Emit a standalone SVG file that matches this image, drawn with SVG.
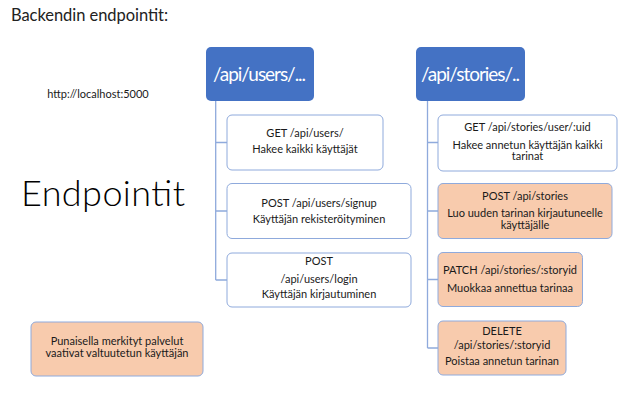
<svg xmlns="http://www.w3.org/2000/svg" width="643" height="404" viewBox="0 0 643 404">
<style>
text{font-family:Lato,"Liberation Sans",sans-serif;fill:#1a1a1a}
.t{font-size:11px;text-anchor:middle}
.hdr rect{fill:#4472C4;stroke:none}
.hdr text{fill:#fff;font-size:19px;text-anchor:middle}
.w{fill:#fff;stroke:#8FAADC;stroke-width:1}
.p{fill:#F8CBAD;stroke:#8FAADC;stroke-width:1}
.c{fill:none;stroke:#8FAADC;stroke-width:1.3}
</style>
<rect width="643" height="404" fill="#fff"/>
<text x="11" y="21" style="font-size:16.5px;fill:#222" textLength="157">Backendin endpointit:</text>
<text x="98" y="98" class="t">http://localhost:5000</text>
<text x="21" y="206" style="font-size:36px;font-weight:300;fill:#000" textLength="164">Endpointit</text>

<g id="connectors">
<path class="c" d="M215.7,101 V280 M215.7,142.5 H227 M215.7,211 H227 M215.7,280 H227"/>
<path class="c" d="M427.5,101 V348 M427.5,142.5 H438 M427.5,211 H438 M427.5,279.5 H438 M427.5,348 H438"/>
</g>

<g id="users" class="hdr"><rect x="206" y="47" width="108" height="54" rx="5"/><text x="213" y="81" style="text-anchor:start" textLength="93">/api/users/...</text></g>
<g id="stories" class="hdr"><rect x="416" y="47" width="109" height="54" rx="5"/><text x="421" y="81" style="text-anchor:start" textLength="99">/api/stories/..</text></g>

<g id="get-users"><rect class="w" x="227" y="115" width="156" height="55" rx="5"/>
<text class="t" x="305" y="137">GET /api/users/</text><text class="t" x="305" y="153">Hakee kaikki käyttäjät</text></g>
<g id="post-signup"><rect class="w" x="227" y="183.5" width="184" height="55" rx="5"/>
<text class="t" x="319" y="206.5">POST /api/users/signup</text><text class="t" x="319" y="223">Käyttäjän rekisteröityminen</text></g>
<g id="post-login"><rect class="w" x="227" y="253" width="184" height="54" rx="5"/>
<text class="t" x="319" y="265">POST</text><text class="t" x="319" y="282.5">/api/users/login</text><text class="t" x="319" y="298">Käyttäjän kirjautuminen</text></g>

<g id="get-stories-user"><rect class="w" x="438" y="115" width="179" height="56" rx="5"/>
<text class="t" x="527.5" y="131">GET /api/stories/user/:uid</text><text class="t" x="527.5" y="148.5">Hakee annetun käyttäjän kaikki</text><text class="t" x="527.5" y="160">tarinat</text></g>
<g id="post-stories"><rect class="p" x="438" y="183.5" width="174" height="55" rx="5"/>
<text class="t" x="525" y="199.5">POST /api/stories</text><text class="t" x="525" y="216.5">Luo uuden tarinan kirjautuneelle</text><text class="t" x="525" y="228.5">käyttäjälle</text></g>
<g id="patch-story"><rect class="p" x="438" y="252.5" width="144.5" height="54" rx="5"/>
<text class="t" x="510" y="273.5">PATCH /api/stories/:storyid</text><text class="t" x="510" y="291.5">Muokkaa annettua tarinaa</text></g>
<g id="delete-story"><rect class="p" x="438" y="321" width="128" height="54" rx="5"/>
<text class="t" x="502" y="335">DELETE</text><text class="t" x="502" y="348.5">/api/stories/:storyid</text><text class="t" x="502" y="365">Poistaa annetun tarinan</text></g>

<g id="legend"><rect class="p" x="31" y="322" width="172" height="54" rx="5"/>
<text class="t" x="117" y="345">Punaisella merkityt palvelut</text><text class="t" x="117" y="357">vaativat valtuutetun käyttäjän</text></g>
</svg>
